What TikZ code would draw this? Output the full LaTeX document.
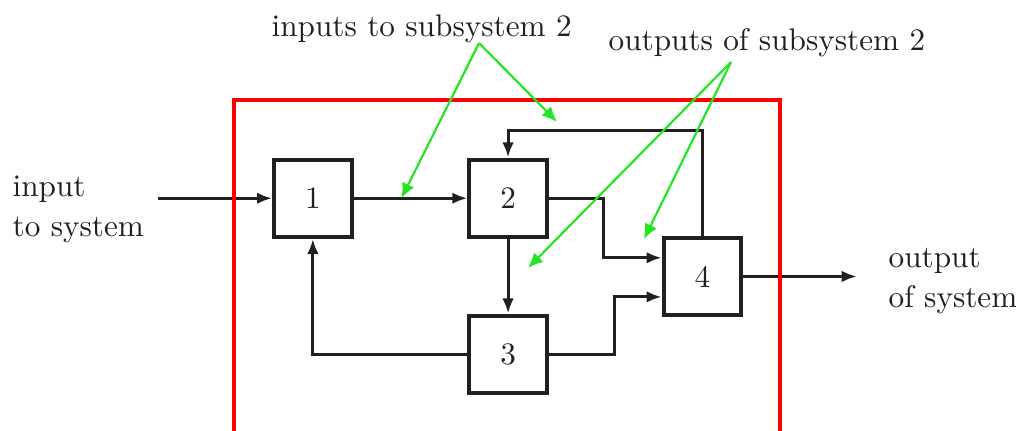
\documentclass[tikz,border=0pt]{standalone}
\usepackage{xcolor}
\usepackage{tikz}
\usetikzlibrary{positioning, arrows.meta, calc}
\definecolor{ink}{HTML}{231F20}
\definecolor{boundary}{HTML}{FF0000}
\definecolor{pointer}{HTML}{22E622}
\tikzset{
  subsys/.style   = {rectangle, draw=ink, line width=1.3pt, minimum size=0.87cm,
                     inner sep=0pt, text=ink},
  lbl/.style      = {align=left, inner sep=0pt, text=ink},
  sysframe/.style = {draw=boundary, line width=1pt},
  sig/.style      = {draw=ink, line width=1pt},
  ar/.style       = {-{Latex[length=1.7mm,width=1.3mm]}, sig},
  gar/.style      = {-{Latex[length=1.7mm,width=1.5mm]}, draw=pointer, line width=0.7pt},
}
\begin{document}
\begin{tikzpicture}[node distance=0.84cm and 1.28cm]
  \useasboundingbox (0,0) rectangle (11.43,-4.8375);

  % subsystems
  \node[subsys] (b1) at (3.52,-2.23) {1};
  \node[subsys, right=of b1] (b2) {2};
  \node[subsys, below=of b2] (b3) {3};
  \node[subsys, right=1.27cm of b2, yshift=-0.88cm] (b4) {4};

  % system input / output
  \coordinate[left=of b1] (sysin);
  \coordinate[right=of b4] (sysout);
  \node[lbl, anchor=base west] (intext) at (0.135,-2.655) {input\\[0.6pt]to system};
  \node[lbl, anchor=base west] (outtext) at (9.99,-3.454) {output\\[0.8pt]of system};

  % signal paths
  \draw[ar] (sysin) -- (b1);
  \draw[ar] (b1) -- (b2);
  \draw[ar] (b2) -- (b3);
  \draw[ar] (b4) -- (sysout);
  \draw[ar] (b2.east) -- ++(0.62,0) |- ($(b4.west)+(0,0.21)$);
  \draw[ar] (b3.east) -- ++(0.74,0) |- ($(b4.west)+(0,-0.23)$);
  \draw[ar] (b3.west) -| (b1.south);
  \draw[ar] (b4.north) -- ++(0,1.18) -| (b2.north);

  % system boundary
  \draw[sysframe] (2.633,-1.125) rectangle (8.775,-5.2);

  % annotations
  \node[lbl, anchor=base west] (intwo) at (3.049,-0.405) {inputs to subsystem 2};
  \node[lbl, anchor=base west] (outtwo) at (6.84,-0.5625) {outputs of subsystem 2};
  \coordinate (inapex) at (5.389,-0.484);
  \coordinate (outapex) at (8.224,-0.698);
  \coordinate (in2a) at ($(b1.east)!0.42!(b2.west)$);
  \coordinate (in2b) at (6.266,-1.37);
  \coordinate (out2a) at (5.94,-3.015);
  \coordinate (out2b) at (7.245,-2.69);
  \draw[gar] (inapex) -- (in2a);
  \draw[gar] (inapex) -- (in2b);
  \draw[gar] (outapex) -- (out2a);
  \draw[gar] (outapex) -- (out2b);

\end{tikzpicture}
\end{document}
